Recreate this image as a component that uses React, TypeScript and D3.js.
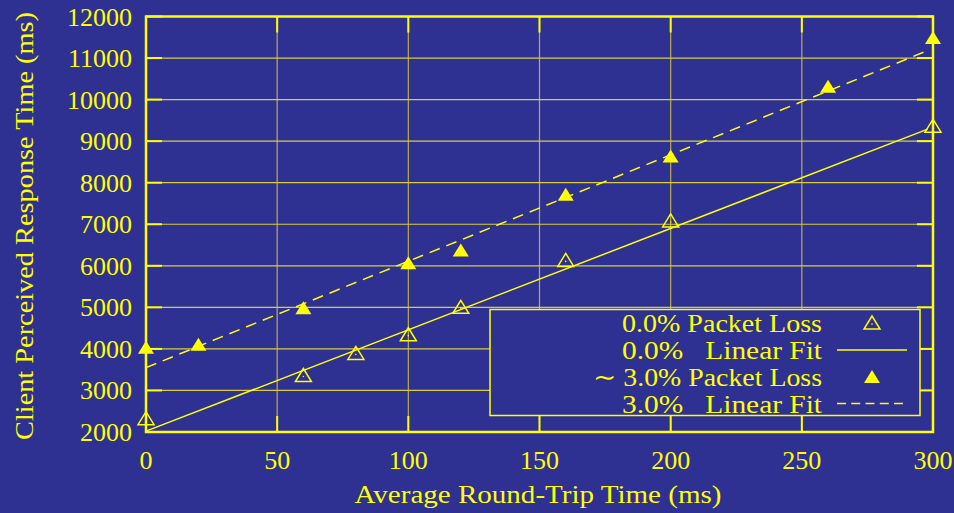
import React from "react";
import * as d3 from "d3";

const rttLoss0 = [0, 60, 80, 100, 120, 160, 200, 300];
const respLoss0 = [2320, 3360, 3890, 4340, 5000, 6130, 7080, 9360];
const rttLoss3 = [0, 20, 60, 100, 120, 160, 200, 260, 300];
const respLoss3 = [4030, 4100, 4980, 6060, 6370, 7710, 8630, 10310, 11480];
const fit0X = [0, 298];
const fit0Y = [2020, 9290];
const fit3X = [0, 298];
const fit3Y = [3550, 11180];
const xTicks = [0, 50, 100, 150, 200, 250, 300];
const yTicks = [2000, 3000, 4000, 5000, 6000, 7000, 8000, 9000, 10000, 11000, 12000];
const legendLabels = ["0.0% Packet Loss", "0.0%   Linear Fit", "~ 3.0% Packet Loss", "3.0%   Linear Fit"];

const W = 954, H = 513;
const BG = "#2e3192";
const YEL = "#ffff00";
const FONT = "'Liberation Serif', 'DejaVu Serif', serif";

export default function App() {
  const x = d3.scaleLinear().domain([0, 300]).range([146, 933]);
  const y = d3.scaleLinear().domain([2000, 12000]).range([432, 16.5]);
  const line = d3.line<[number, number]>().x(d => x(d[0])).y(d => y(d[1]));
  const tri = (cx: number, cy: number) => `M${cx - 8},${cy + 6}L${cx + 8},${cy + 6}L${cx},${cy - 7}Z`;
  const tick = 16;
  const L = { x0: 490, y0: 309.5, x1: 920, y1: 415.5 };
  const rowY = [323, 350, 377, 403.5];
  const legendLen = [200, 200, 229, 200];
  return (
    <div style={{ position: "fixed", left: 0, top: 0 }}>
      <svg width={W} height={H} style={{ display: "block" }}>
        <rect width={W} height={H} fill={BG} />
        {/* grid */}
        {xTicks.slice(1, -1).map(t => (
          <line key={"gx" + t} x1={x(t)} x2={x(t)} y1={y(12000)} y2={y(2000)} stroke="#b8ad50" strokeWidth={1.2} />
        ))}
        {yTicks.slice(1, -1).map(t => (
          <line key={"gy" + t} x1={x(0)} x2={x(300)} y1={y(t)} y2={y(t)} stroke="#d6cf3a" strokeWidth={1.2} />
        ))}
        {/* ticks */}
        {xTicks.map(t => (
          <g key={"tx" + t}>
            <line x1={x(t)} x2={x(t)} y1={y(2000)} y2={y(2000) - tick} stroke={YEL} strokeWidth={2} />
            <line x1={x(t)} x2={x(t)} y1={y(12000)} y2={y(12000) + tick} stroke={YEL} strokeWidth={2} />
            <text x={x(t)} y={y(2000) + 37} fill={YEL} fontFamily={FONT} fontSize={26} textAnchor="middle">{t}</text>
          </g>
        ))}
        {yTicks.map(t => (
          <g key={"ty" + t}>
            <line x1={x(0)} x2={x(0) + tick} y1={y(t)} y2={y(t)} stroke={YEL} strokeWidth={2} />
            <line x1={x(300)} x2={x(300) - tick} y1={y(t)} y2={y(t)} stroke={YEL} strokeWidth={2} />
            <text x={132} y={y(t) + 9} fill={YEL} fontFamily={FONT} fontSize={26} textAnchor="end">{t}</text>
          </g>
        ))}
        {/* frame */}
        <rect x={x(0)} y={y(12000)} width={x(300) - x(0)} height={y(2000) - y(12000)} fill="none" stroke={YEL} strokeWidth={2.5} />
        {/* fits */}
        <path d={line(fit0X.map((v, i) => [v, fit0Y[i]]) as [number, number][]) || ""} fill="none" stroke={YEL} strokeWidth={1.5} />
        <path d={line(fit3X.map((v, i) => [v, fit3Y[i]]) as [number, number][]) || ""} fill="none" stroke={YEL} strokeWidth={1.5} strokeDasharray="11,7" />
        {/* points */}
        {rttLoss0.map((v, i) => (
          <g key={"p0" + i}>
            <path d={tri(x(v), y(respLoss0[i]))} fill="none" stroke={YEL} strokeWidth={1.5} />
            <circle cx={x(v)} cy={y(respLoss0[i]) + 1} r={0.8} fill={YEL} />
          </g>
        ))}
        {rttLoss3.map((v, i) => (
          <path key={"p3" + i} d={tri(x(v), y(respLoss3[i]))} fill={YEL} />
        ))}
        {/* legend */}
        <rect x={L.x0} y={L.y0} width={L.x1 - L.x0} height={L.y1 - L.y0} fill={BG} stroke={YEL} strokeWidth={1.5} />
        {legendLabels.map((s, i) => (
          <text key={"lg" + i} x={822} y={rowY[i] + 9} fill={YEL} fontFamily={FONT} fontSize={26} textAnchor="end" style={{ whiteSpace: "pre" }} xmlSpace="preserve" textLength={legendLen[i]} lengthAdjust="spacingAndGlyphs">{s.replace("~", "∼")}</text>
        ))}
        <path d={tri(872, rowY[0])} fill="none" stroke={YEL} strokeWidth={1.5} />
        <circle cx={872} cy={rowY[0] + 1} r={0.8} fill={YEL} />
        <line x1={837} x2={907} y1={rowY[1]} y2={rowY[1]} stroke={YEL} strokeWidth={1.5} />
        <path d={tri(872, rowY[2])} fill={YEL} />
        <line x1={837} x2={907} y1={rowY[3]} y2={rowY[3]} stroke={YEL} strokeWidth={1.5} strokeDasharray="9,5.25" />
        {/* axis titles */}
        <text x={538} y={503} fill={YEL} fontFamily={FONT} fontSize={26} textAnchor="middle" textLength={367} lengthAdjust="spacingAndGlyphs">Average Round-Trip Time (ms)</text>
        <text transform="translate(33,226) rotate(-90)" fill={YEL} fontFamily={FONT} fontSize={26} textAnchor="middle" textLength={428} lengthAdjust="spacingAndGlyphs">Client Perceived Response Time (ms)</text>
      </svg>
    </div>
  );
}
